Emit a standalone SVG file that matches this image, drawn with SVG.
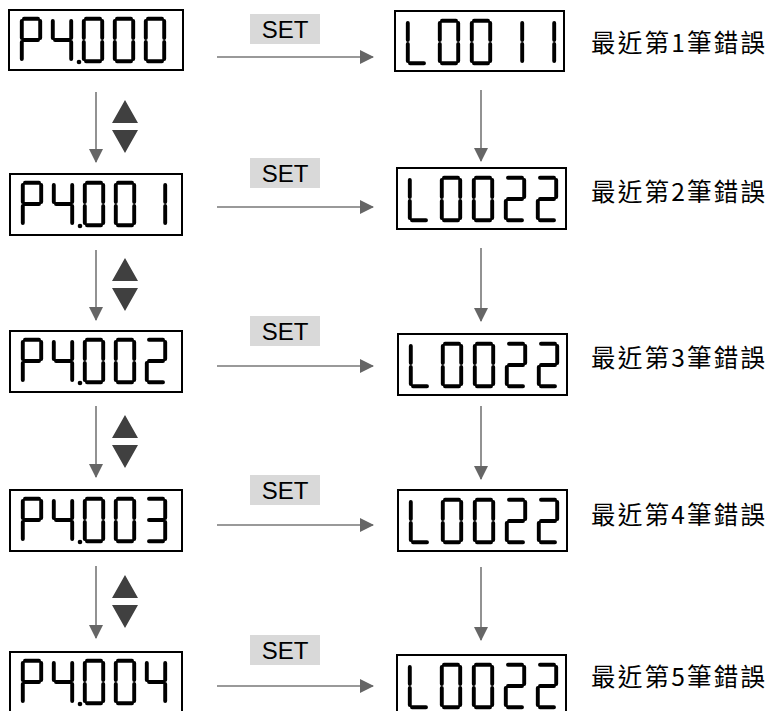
<svg xmlns="http://www.w3.org/2000/svg" xmlns:xlink="http://www.w3.org/1999/xlink" width="768" height="711" viewBox="0 0 768 711">
<style>
.box{fill:#fff;stroke:#000;stroke-width:2}
.seg{fill:none;stroke:#000;stroke-width:3.9;stroke-linecap:round}
.set{fill:#d9d9d9}
.settx{font-family:"Liberation Sans",Arial,sans-serif;font-size:24px;fill:#000;text-anchor:middle}
.lbl{font-family:"Noto Sans CJK TC","Noto Sans CJK SC",sans-serif;font-size:24.5px;fill:#000}
.conn{stroke:#777;stroke-width:1.6;fill:none}
.tri{fill:#404040}
</style>
<defs>
<marker id="ah" viewBox="0 0 14 14" refX="13" refY="7" markerWidth="14" markerHeight="14" markerUnits="userSpaceOnUse" orient="auto">
<path d="M0,0 L14,7 L0,14 Z" fill="#666"/>
</marker>
<path id="dP" class="seg" d="M4 1.8H18M20.2 4V21M1.8 4V21M4 23H18M1.8 25V42"/>
<path id="d4" class="seg" d="M1.8 4V21M4 23H18M20.2 4V21M20.2 25V42"/>
<path id="d0" class="seg" d="M4 1.8H18M20.2 4V21M20.2 25V42M4 44.2H18M1.8 25V42M1.8 4V21"/>
<path id="d1" class="seg" d="M20.2 4V21M20.2 25V42"/>
<path id="d2" class="seg" d="M4 1.8H18M20.2 4V21M4 23H18M1.8 25V42M4 44.2H18"/>
<path id="d3" class="seg" d="M4 1.8H18M20.2 4V21M4 23H18M20.2 25V42M4 44.2H18"/>
<path id="dL" class="seg" d="M1.8 4V21M1.8 25V42M4 44.2H18"/>
</defs>

<g id="connectors">
<line class="conn" x1="217" y1="57" x2="373" y2="57" marker-end="url(#ah)"/>
<line class="conn" x1="217" y1="207" x2="373" y2="207" marker-end="url(#ah)"/>
<line class="conn" x1="217" y1="366" x2="373" y2="366" marker-end="url(#ah)"/>
<line class="conn" x1="217" y1="525" x2="373" y2="525" marker-end="url(#ah)"/>
<line class="conn" x1="217" y1="686" x2="373" y2="686" marker-end="url(#ah)"/>
<line class="conn" x1="96" y1="92" x2="96" y2="162" marker-end="url(#ah)"/>
<line class="conn" x1="96" y1="250" x2="96" y2="320" marker-end="url(#ah)"/>
<line class="conn" x1="96" y1="406" x2="96" y2="477" marker-end="url(#ah)"/>
<line class="conn" x1="96" y1="566" x2="96" y2="638" marker-end="url(#ah)"/>
<line class="conn" x1="481" y1="90" x2="481" y2="161" marker-end="url(#ah)"/>
<line class="conn" x1="481" y1="248" x2="481" y2="321" marker-end="url(#ah)"/>
<line class="conn" x1="481" y1="406" x2="481" y2="479" marker-end="url(#ah)"/>
<line class="conn" x1="481" y1="567" x2="481" y2="640" marker-end="url(#ah)"/>
<g id="set-labels">
<rect class="set" x="250" y="14" width="70" height="30"/><text class="settx" x="285" y="37.5">SET</text>
<rect class="set" x="250" y="158" width="70" height="30"/><text class="settx" x="285" y="181.5">SET</text>
<rect class="set" x="250" y="316" width="70" height="30"/><text class="settx" x="285" y="339.5">SET</text>
<rect class="set" x="250" y="475" width="70" height="30"/><text class="settx" x="285" y="498.5">SET</text>
<rect class="set" x="250" y="635" width="70" height="30"/><text class="settx" x="285" y="658.5">SET</text>
</g>
<g id="updown">
<path class="tri" d="M125,100 L138,123 L112,123 Z M112,130 L138,130 L125,153 Z"/>
<path class="tri" d="M125,258 L138,281 L112,281 Z M112,288 L138,288 L125,311 Z"/>
<path class="tri" d="M125,415 L138,438 L112,438 Z M112,445 L138,445 L125,468 Z"/>
<path class="tri" d="M125,575 L138,598 L112,598 Z M112,605 L138,605 L125,628 Z"/>
</g>
</g>

<g id="p4000" transform="translate(9,10)">
<rect class="box" x="0" y="0" width="174" height="60"/>
<use href="#dP" x="11" y="7"/><use href="#d4" x="42" y="7"/><use href="#d0" x="73" y="7"/><use href="#d0" x="104" y="7"/><use href="#d0" x="135" y="7"/>
<circle cx="70" cy="52" r="2.3"/>
</g>
<g id="p4001" transform="translate(10,174)">
<rect class="box" x="0" y="0" width="172" height="61"/>
<use href="#dP" x="11" y="7"/><use href="#d4" x="42" y="7"/><use href="#d0" x="73" y="7"/><use href="#d0" x="104" y="7"/><use href="#d1" x="135" y="7"/>
<circle cx="70" cy="52" r="2.3"/>
</g>
<g id="p4002" transform="translate(10,331)">
<rect class="box" x="0" y="0" width="172" height="61"/>
<use href="#dP" x="11" y="7"/><use href="#d4" x="42" y="7"/><use href="#d0" x="73" y="7"/><use href="#d0" x="104" y="7"/><use href="#d2" x="135" y="7"/>
<circle cx="70" cy="52" r="2.3"/>
</g>
<g id="p4003" transform="translate(10,490)">
<rect class="box" x="0" y="0" width="172" height="61"/>
<use href="#dP" x="11" y="7"/><use href="#d4" x="42" y="7"/><use href="#d0" x="73" y="7"/><use href="#d0" x="104" y="7"/><use href="#d3" x="135" y="7"/>
<circle cx="70" cy="52" r="2.3"/>
</g>
<g id="p4004" transform="translate(10,652)">
<rect class="box" x="0" y="0" width="172" height="61"/>
<use href="#dP" x="11" y="7"/><use href="#d4" x="42" y="7"/><use href="#d0" x="73" y="7"/><use href="#d0" x="104" y="7"/><use href="#d4" x="135" y="7"/>
<circle cx="70" cy="52" r="2.3"/>
</g>

<g id="err1" transform="translate(395,11)">
<rect class="box" x="0" y="0" width="169" height="60"/>
<use href="#dL" x="11" y="8"/><use href="#d0" x="43" y="8"/><use href="#d0" x="75" y="8"/><use href="#d1" x="107" y="8"/><use href="#d1" x="139" y="8"/>
</g>
<g id="err2" transform="translate(397,168)">
<rect class="box" x="0" y="0" width="169" height="61"/>
<use href="#dL" x="11" y="8"/><use href="#d0" x="43" y="8"/><use href="#d0" x="75" y="8"/><use href="#d2" x="107" y="8"/><use href="#d2" x="139" y="8"/>
</g>
<g id="err3" transform="translate(398,334)">
<rect class="box" x="0" y="0" width="169" height="61"/>
<use href="#dL" x="11" y="8"/><use href="#d0" x="43" y="8"/><use href="#d0" x="75" y="8"/><use href="#d2" x="107" y="8"/><use href="#d2" x="139" y="8"/>
</g>
<g id="err4" transform="translate(398,490)">
<rect class="box" x="0" y="0" width="169" height="61"/>
<use href="#dL" x="11" y="8"/><use href="#d0" x="43" y="8"/><use href="#d0" x="75" y="8"/><use href="#d2" x="107" y="8"/><use href="#d2" x="139" y="8"/>
</g>
<g id="err5" transform="translate(397,655)">
<rect class="box" x="0" y="0" width="169" height="61"/>
<use href="#dL" x="11" y="8"/><use href="#d0" x="43" y="8"/><use href="#d0" x="75" y="8"/><use href="#d2" x="107" y="8"/><use href="#d2" x="139" y="8"/>
</g>

<g id="labels">
<text class="lbl" x="591" y="52" textLength="174" lengthAdjust="spacing">最近第1筆錯誤</text>
<text class="lbl" x="591" y="201" textLength="174" lengthAdjust="spacing">最近第2筆錯誤</text>
<text class="lbl" x="591" y="367" textLength="174" lengthAdjust="spacing">最近第3筆錯誤</text>
<text class="lbl" x="591" y="524" textLength="174" lengthAdjust="spacing">最近第4筆錯誤</text>
<text class="lbl" x="591" y="686" textLength="174" lengthAdjust="spacing">最近第5筆錯誤</text>
</g>
</svg>
